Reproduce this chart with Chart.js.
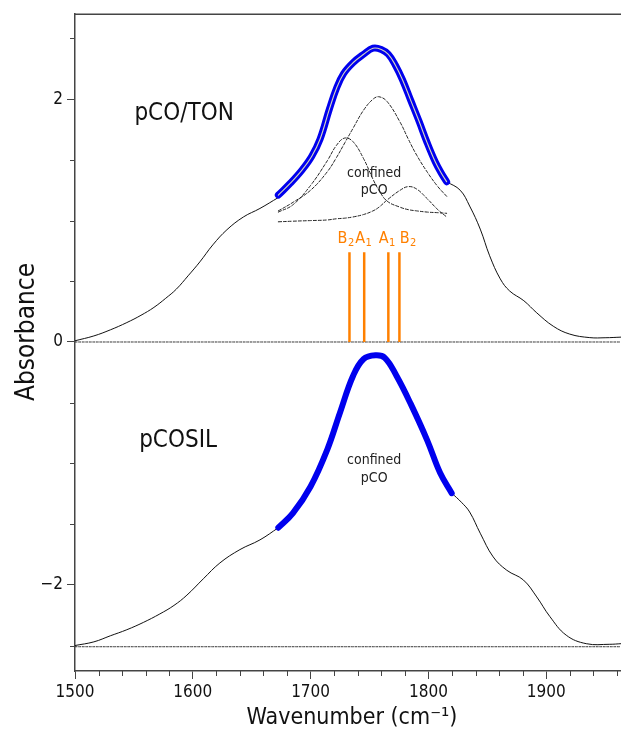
<!DOCTYPE html>
<html>
<head>
<meta charset="utf-8">
<script src="https://cdn.jsdelivr.net/npm/chart.js@4.4.1/dist/chart.umd.min.js"></script>
<style>
  html, body { margin: 0; padding: 0; background: #fff; }
  canvas { display: block; }
</style>
</head>
<body>
<canvas id="irChart" width="621" height="739"></canvas>
<script>
// ===== DATA =====
// pCO/TON spectrum, thin black parts either side of the fitted band
const topLeftWave = [1500, 1516, 1530, 1544, 1556, 1567, 1577, 1586, 1596, 1606, 1617, 1629, 1643, 1657, 1672.6];
const topLeftAbs  = [0.01, 0.05, 0.10, 0.16, 0.22, 0.285, 0.36, 0.435, 0.545, 0.66, 0.80, 0.925, 1.03, 1.10, 1.19];
const topRightWave = [1815.5, 1827, 1835, 1844, 1852, 1861, 1869, 1881, 1892, 1906, 1920, 1937, 1950, 1963.5];
const topRightAbs  = [1.32, 1.25, 1.12, 0.93, 0.71, 0.52, 0.42, 0.34, 0.24, 0.13, 0.065, 0.036, 0.035, 0.04];

// pCO/TON fitted region (blue)
const topFitWave = [1672.6, 1683, 1693, 1701, 1708, 1716, 1722, 1728, 1736, 1745, 1753, 1760, 1766, 1772, 1778, 1785, 1792, 1799, 1806, 1811, 1815.5];
const topFitAbs  = [1.21, 1.31, 1.42, 1.53, 1.67, 1.92, 2.09, 2.21, 2.30, 2.37, 2.42, 2.41, 2.37, 2.28, 2.16, 1.99, 1.82, 1.64, 1.48, 1.39, 1.32];

// fitted components (dashed)
const compWave  = [1672.6, 1685, 1700, 1714, 1722, 1729, 1736, 1745, 1753, 1758, 1765, 1776, 1783, 1790, 1799, 1808, 1815.5];
const compMid   = [1.08, 1.15, 1.25, 1.40, 1.52, 1.64, 1.76, 1.91, 2.00, 2.02, 1.98, 1.81, 1.67, 1.54, 1.40, 1.28, 1.20];
const compLeft  = [1.07, 1.13, 1.29, 1.49, 1.62, 1.68, 1.65, 1.51, 1.34, 1.25, 1.16, 1.11, 1.09, 1.08, 1.07, 1.065, 1.06];
const compRight = [0.99, 0.995, 1.00, 1.005, 1.015, 1.02, 1.03, 1.05, 1.08, 1.11, 1.17, 1.25, 1.28, 1.26, 1.18, 1.09, 1.03];

// pCOSIL spectrum (offset)
const botLeftWave = [1500, 1516, 1530, 1544, 1558, 1572, 1584, 1595, 1609, 1623, 1640, 1657, 1672.6];
const botLeftAbs  = [-2.50, -2.47, -2.42, -2.37, -2.31, -2.24, -2.17, -2.085, -1.95, -1.82, -1.71, -1.63, -1.53];
const botFitWave = [1672.6, 1685, 1700, 1714, 1725, 1736, 1745, 1755, 1763, 1773, 1785, 1799, 1810, 1819.8];
const botFitAbs  = [-1.53, -1.41, -1.19, -0.89, -0.58, -0.28, -0.14, -0.11, -0.13, -0.28, -0.51, -0.81, -1.08, -1.245];
const botRightWave = [1819.8, 1828, 1835, 1844, 1855, 1866.5, 1880.6, 1892, 1903, 1917, 1934, 1954, 1963.5];
const botRightAbs  = [-1.245, -1.32, -1.40, -1.575, -1.77, -1.88, -1.96, -2.10, -2.26, -2.415, -2.485, -2.49, -2.485];

// baselines
const baselines = [0, -2.51];

// calculated modes (orange sticks)
const stickWave = [1733, 1745.5, 1766, 1775.4];
const stickTop = 0.74;
const stickSym = ['B', 'A', 'A', 'B'];
const stickSub = ['2', '1', '1', '2'];

// axes
const xRange = [1500, 1963.5];
const yRange = [-2.71, 2.70];
const xMajor = [1500, 1600, 1700, 1800, 1900];
const yMajor = [-2, 0, 2];
const yMinor = [-2.5, -1.5, -1, -0.5, 0.5, 1, 1.5, 2.5];

const FONT = "'DejaVu Sans Condensed', 'DejaVu Sans', sans-serif";
const AXIS = '#444';
const BLUE = '#0000ee';
const ORANGE = '#ff8000';

const pts = (xs, ys) => xs.map((x, i) => ({ x: x, y: ys[i] }));

function lineSet(data, color, width, dash) {
    return {
        data: data,
        showLine: true,
        borderColor: color,
        borderWidth: width,
        borderDash: dash || [],
        borderCapStyle: 'round',
        pointRadius: 0,
        tension: 0.4,
        fill: false
    };
}

const sticks = [];
stickWave.forEach(w => {
    sticks.push({ x: w, y: baselines[0] }, { x: w, y: stickTop }, { x: w, y: null });
});

const datasets = [
    lineSet(pts(xRange, [baselines[0], baselines[0]]), '#333', 1, [2, 1.5]),
    lineSet(pts(xRange, [baselines[1], baselines[1]]), '#333', 1, [2, 1.5]),
    lineSet(pts(topLeftWave, topLeftAbs), '#111', 1),
    lineSet(pts(topRightWave, topRightAbs), '#111', 1),
    lineSet(pts(botLeftWave, botLeftAbs), '#111', 1),
    lineSet(pts(botRightWave, botRightAbs), '#111', 1),
    lineSet(pts(compWave, compMid), '#222', 1, [3, 2]),
    lineSet(pts(compWave, compLeft), '#222', 1, [3, 2]),
    lineSet(pts(compWave, compRight), '#222', 1, [3, 2]),
    lineSet(pts(topFitWave, topFitAbs), BLUE, 7),
    lineSet(pts(topFitWave, topFitAbs), '#d8d8bc', 1.1),
    lineSet(pts(botFitWave, botFitAbs), BLUE, 6),
    Object.assign(lineSet(sticks, ORANGE, 2.5), { spanGaps: false, tension: 0, borderCapStyle: 'butt' })
];
// later datasets drawn on top
datasets.forEach((d, i) => { d.order = datasets.length - i; });

// ===== EXTRA DRAWING: frame, minor ticks, labels =====
const annotate = {
    id: 'annotate',
    afterDraw(chart) {
        const { ctx, chartArea: a, scales: { x, y } } = chart;
        ctx.save();

        // top frame line
        ctx.strokeStyle = AXIS;
        ctx.lineWidth = 1.5;
        ctx.beginPath();
        ctx.moveTo(a.left, a.top);
        ctx.lineTo(a.right, a.top);
        ctx.stroke();

        // minor ticks
        ctx.lineWidth = 1;
        ctx.beginPath();
        yMinor.forEach(v => {
            const py = Math.round(y.getPixelForValue(v)) + 0.5;
            ctx.moveTo(a.left - 5, py);
            ctx.lineTo(a.left, py);
        });
        for (let w = 1520; w < xRange[1]; w += 20) {
            if (w % 100 === 0) continue;
            const px = Math.round(x.getPixelForValue(w)) + 0.5;
            ctx.moveTo(px, a.bottom);
            ctx.lineTo(px, a.bottom + 5);
        }
        ctx.stroke();

        // sample names
        ctx.fillStyle = '#111';
        ctx.textAlign = 'center';
        ctx.textBaseline = 'middle';
        ctx.font = '24px ' + FONT;
        ctx.fillText('pCO/TON', x.getPixelForValue(1592.6), y.getPixelForValue(1.88));
        ctx.fillText('pCOSIL', x.getPixelForValue(1587.5), y.getPixelForValue(-0.81));

        ctx.font = '14px ' + FONT;
        ctx.fillStyle = '#222';
        ctx.fillText('confined', x.getPixelForValue(1754), y.getPixelForValue(1.39));
        ctx.fillText('pCO', x.getPixelForValue(1754), y.getPixelForValue(1.245));
        ctx.fillText('confined', x.getPixelForValue(1754), y.getPixelForValue(-0.975));
        ctx.fillText('pCO', x.getPixelForValue(1754), y.getPixelForValue(-1.12));

        // mode labels with subscripts
        const labelWave = [1729.8, 1744.7, 1764.6, 1782.5];
        ctx.fillStyle = ORANGE;
        ctx.textAlign = 'left';
        labelWave.forEach((w, i) => {
            ctx.font = '16px ' + FONT;
            const mw = ctx.measureText(stickSym[i]).width;
            ctx.font = '11px ' + FONT;
            const sw = ctx.measureText(stickSub[i]).width;
            const left = x.getPixelForValue(w) - (mw + sw) / 2;
            const py = y.getPixelForValue(0.85);
            ctx.font = '16px ' + FONT;
            ctx.fillText(stickSym[i], left, py);
            ctx.font = '11px ' + FONT;
            ctx.fillText(stickSub[i], left + mw + 0.5, py + 4);
        });

        // axis titles
        ctx.fillStyle = '#111';
        ctx.textAlign = 'center';
        ctx.font = '23px ' + FONT;
        ctx.fillText('Wavenumber (cm\u207B\u00B9)', 352, 718);
        ctx.save();
        ctx.translate(27, 332);
        ctx.rotate(-Math.PI / 2);
        ctx.font = '26px ' + FONT;
        ctx.fillText('Absorbance', 0, 0);
        ctx.restore();

        ctx.restore();
    }
};

new Chart(document.getElementById('irChart'), {
    type: 'scatter',
    data: { datasets: datasets },
    plugins: [annotate],
    options: {
        responsive: false,
        animation: false,
        devicePixelRatio: 1,
        layout: { padding: { top: 14, right: 0, bottom: 0, left: 0 } },
        plugins: {
            legend: { display: false },
            tooltip: { enabled: false }
        },
        scales: {
            x: {
                type: 'linear',
                position: 'bottom',
                min: xRange[0],
                max: xRange[1],
                afterBuildTicks: s => { s.ticks = xMajor.map(v => ({ value: v })); },
                afterFit: s => { s.height = 68; },
                ticks: {
                    color: '#111',
                    font: { family: FONT, size: 17 },
                    padding: 3,
                    maxRotation: 0,
                    callback: v => String(v)
                },
                grid: { drawOnChartArea: false, tickLength: 8, color: AXIS, tickColor: AXIS },
                border: { display: true, color: AXIS, width: 1.5 }
            },
            y: {
                type: 'linear',
                position: 'left',
                min: yRange[0],
                max: yRange[1],
                afterBuildTicks: s => { s.ticks = yMajor.map(v => ({ value: v })); },
                afterFit: s => { s.width = 75; },
                ticks: {
                    color: '#111',
                    font: { family: FONT, size: 17 },
                    padding: 4,
                    callback: v => (v < 0 ? '\u2212' + Math.abs(v) : String(v))
                },
                grid: { drawOnChartArea: false, tickLength: 8, color: AXIS, tickColor: AXIS },
                border: { display: true, color: AXIS, width: 1.5 }
            }
        }
    }
});
</script>
</body>
</html>
